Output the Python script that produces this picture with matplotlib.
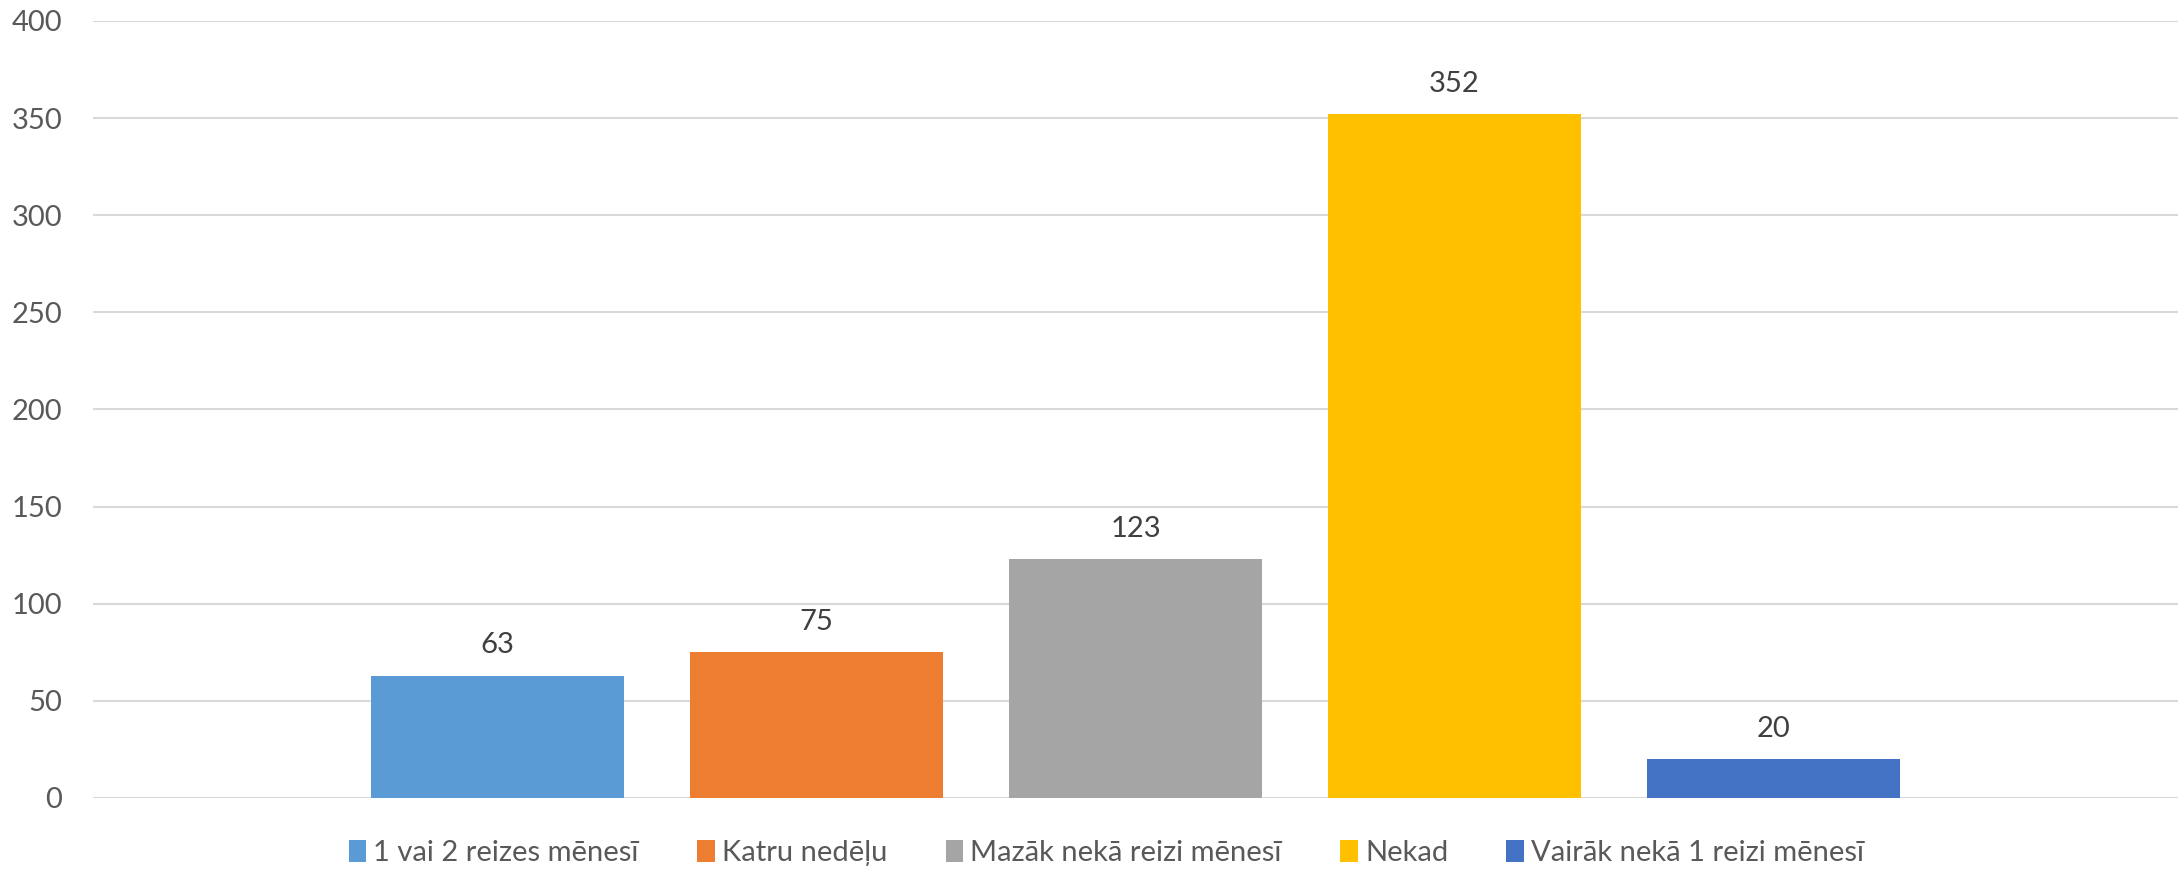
import numpy as np
import matplotlib.pyplot as plt

plt.rcParams['font.family'] = ['Lato', 'DejaVu Sans']

series = ['1 vai 2 reizes mēnesī', 'Katru nedēļu', 'Mazāk nekā reizi mēnesī',
          'Nekad', 'Vairāk nekā 1 reizi mēnesī']
values = [63, 75, 123, 352, 20]
colors = ['#5B9BD5', '#ED7D31', '#A5A5A5', '#FFC000', '#4472C4']

fig = plt.figure(figsize=(21.78, 8.74), dpi=100)
ax = fig.add_axes([0.0427, 0.087, 0.9573, 0.889])

step = 0.153
width = 0.121
for i, (name, v, c) in enumerate(zip(series, values, colors)):
    x = (i - 2) * step
    ax.bar(x, v, width=width, color=c, label=name, zorder=3)
    ax.text(x, v + 9, str(v), ha='center', va='bottom', fontsize=21,
            color='#404040')

ax.set_xlim(-0.5, 0.5)
ax.set_ylim(0, 400)
ax.set_yticks(np.arange(0, 401, 50))
ax.set_xticks([])
ax.grid(True, axis='y', color='#D9D9D9', linewidth=1.5, zorder=0)
ax.tick_params(axis='y', length=0, pad=22, labelsize=21, labelcolor='#595959')
for s in ax.spines.values():
    s.set_visible(False)

fig.legend(loc='center', bbox_to_anchor=(0.508, 0.024), ncol=5, frameon=False,
           fontsize=21, labelcolor='#595959', handlelength=0.6, handleheight=0.8,
           handletextpad=0.25, columnspacing=2.0)

fig.savefig('out.png', dpi=100)
